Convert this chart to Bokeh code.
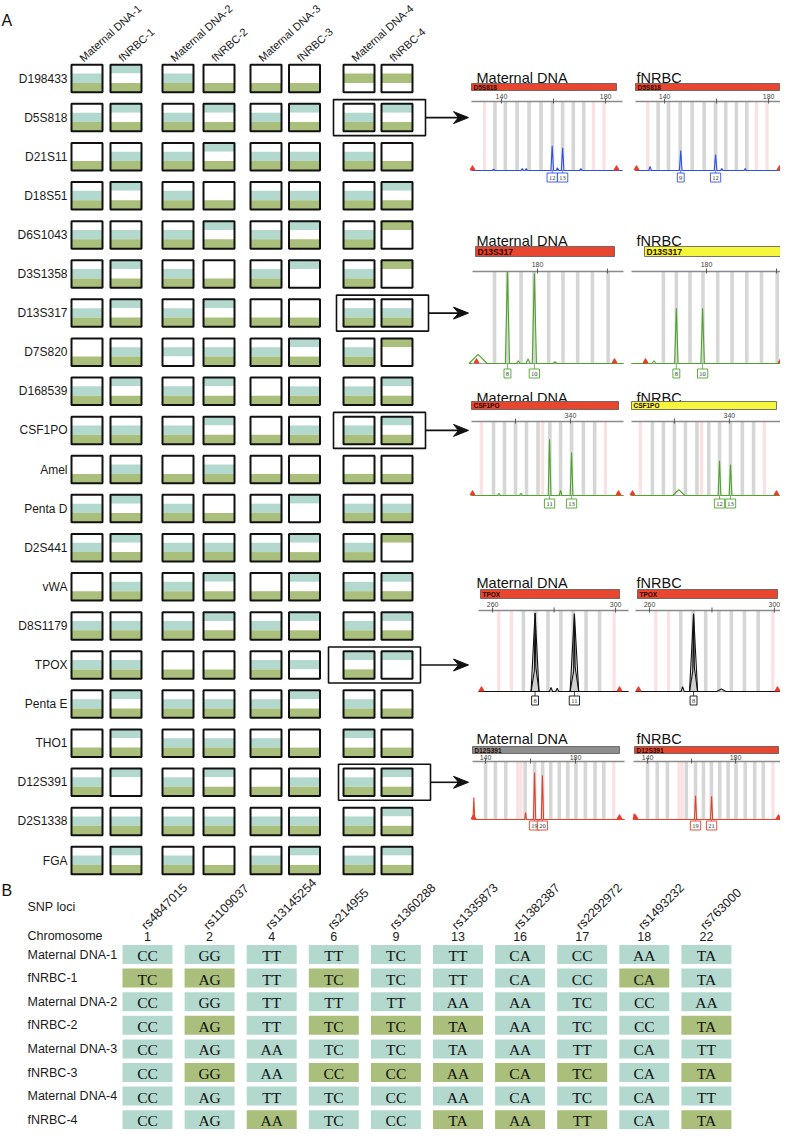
import numpy as np
from bokeh.plotting import figure
from bokeh.models import Range1d
from bokeh.core.properties import value
from bokeh.embed import file_html
from bokeh.resources import INLINE

SANS = value("Liberation Sans")
SERIF = value("Liberation Serif")
TEAL = "#b3d9cf"
GREEN = "#a9bf7b"
BAND_COLOR = {"T": TEAL, "G": GREEN, "W": "#ffffff"}

# ---------------- Panel A data ----------------
loci = ["D198433", "D5S818", "D21S11", "D18S51", "D6S1043", "D3S1358", "D13S317",
        "D7S820", "D168539", "CSF1PO", "Amel", "Penta D", "D2S441", "vWA", "D8S1179",
        "TPOX", "Penta E", "THO1", "D12S391", "D2S1338", "FGA"]
samples = ["Maternal DNA-1", "fNRBC-1", "Maternal DNA-2", "fNRBC-2",
           "Maternal DNA-3", "fNRBC-3", "Maternal DNA-4", "fNRBC-4"]
# band colours of each cell, top / middle / bottom (T teal, G green, W white)
cell_patterns = [
    ["WTG", "TWG", "WTG", "WWG", "WWG", "WWG", "WGW", "WGW"],  # D198433
    ["WTG", "TWG", "WTG", "TWG", "WTG", "TWG", "WTG", "TWG"],  # D5S818
    ["WWG", "WTG", "WTG", "TWG", "WTG", "WTG", "WTG", "WWG"],  # D21S11
    ["WTG", "TWG", "WTG", "WWG", "WTG", "WTG", "WTG", "TWG"],  # D18S51
    ["WTG", "WTG", "WTG", "TWG", "WTG", "TWG", "WTG", "GWW"],  # D6S1043
    ["WTG", "TWG", "WTG", "WWG", "WTG", "TWW", "WTG", "GWW"],  # D3S1358
    ["WTG", "TWG", "WTG", "TWG", "WWG", "WWG", "WTG", "WTG"],  # D13S317
    ["WWG", "WTG", "WTW", "WTG", "WTG", "TWG", "WTG", "GWW"],  # D7S820
    ["WTG", "TWG", "WTG", "TWG", "WWG", "WTG", "WTG", "TWG"],  # D168539
    ["WTG", "WTG", "WTG", "TWG", "WWG", "WTG", "WTG", "TWG"],  # CSF1PO
    ["WWG", "WTG", "WWG", "WTG", "WWG", "WWG", "WWG", "WWG"],  # Amel
    ["WTG", "TWG", "WTG", "WWG", "WTG", "TWW", "WTG", "WTG"],  # Penta D
    ["WTG", "TWG", "WTG", "WTG", "WTG", "TWG", "WTG", "GWW"],  # D2S441
    ["WWG", "WTG", "WTG", "TWG", "WWG", "TWG", "WTG", "TWG"],  # vWA
    ["WTG", "WTG", "WTG", "TWG", "WTG", "TWG", "WTG", "TWG"],  # D8S1179
    ["WTG", "WTG", "WWG", "WWG", "WTG", "WTW", "TWG", "TWW"],  # TPOX
    ["WTG", "TWG", "WTG", "WTG", "WTG", "TWG", "WTG", "WWG"],  # Penta E
    ["WWG", "TWG", "WTG", "WTG", "WTG", "WWG", "TWG", "WWG"],  # THO1
    ["WTG", "TWW", "WTG", "TWG", "WWG", "WTG", "WTG", "TWG"],  # D12S391
    ["WTG", "WTG", "WTG", "WTG", "WTG", "WTG", "WTG", "TWG"],  # D2S1338
    ["WTG", "TWG", "WTG", "WWG", "WTG", "TWG", "WTG", "TWG"],  # FGA
]
ep_loci = ["D5S818", "D13S317", "CSF1PO", "TPOX", "D12S391"]

# ---------------- Panel B data ----------------
snp_ids = ["rs4847015", "rs1109037", "rs13145254", "rs214955", "rs1360288",
           "rs1335873", "rs1382387", "rs2292972", "rs1493232", "rs763000"]
chromosomes = ["1", "2", "4", "6", "9", "13", "16", "17", "18", "22"]
genotypes = [
    ["CC", "GG", "TT", "TT", "TC", "TT", "CA", "CC", "AA", "TA"],
    ["TC", "AG", "TT", "TC", "TC", "TT", "CA", "CC", "CA", "TA"],
    ["CC", "GG", "TT", "TT", "TT", "AA", "AA", "TC", "CC", "AA"],
    ["CC", "AG", "TT", "TC", "TC", "TA", "AA", "TC", "CC", "TA"],
    ["CC", "AG", "AA", "TC", "TC", "TA", "AA", "TT", "CA", "TT"],
    ["CC", "GG", "AA", "CC", "CC", "AA", "CA", "TC", "CA", "TA"],
    ["CC", "AG", "TT", "TC", "CC", "AA", "CA", "TC", "CA", "TT"],
    ["CC", "AG", "AA", "TC", "CC", "TA", "AA", "TT", "CA", "TA"],
]
differs = [
    [0, 0, 0, 0, 0, 0, 0, 0, 0, 0],
    [1, 1, 0, 1, 0, 0, 0, 0, 1, 0],
    [0, 0, 0, 0, 0, 0, 0, 0, 0, 0],
    [0, 1, 0, 1, 1, 1, 0, 0, 0, 1],
    [0, 0, 0, 0, 0, 0, 0, 0, 0, 0],
    [0, 1, 0, 1, 1, 1, 1, 1, 0, 1],
    [0, 0, 0, 0, 0, 0, 0, 0, 0, 0],
    [0, 0, 1, 0, 0, 1, 1, 1, 0, 1],
]

# ---------------- electropherogram data (bp; heights = fraction of panel) ----------------
ep_bar_mat = ["#e8462f", "#e8462f", "#e8462f", "#e8462f", "#8e8e8e"]
ep_bar_fn = ["#e8462f", "#f6f63c", "#f6f63c", "#e8462f", "#e8462f"]
ep_trace = ["#2f4fe6", "#4ca52a", "#4ca52a", "#111111", "#e2402a"]
ep_ticks = [[140, 160, 180], [180, 200], [320, 340], [260, 280, 300], [140, 160, 180]]
ep_tick_labels = [[140, 180], [180], [340], [260, 300], [140, 180]]
ep_bins = [
    [137.5, 141.5, 146.0, 150.6, 155.2, 159.6, 163.5, 167.6, 171.6],
    [167.7, 171.4, 175.3, 179.0, 183.2, 187.3, 191.5, 195.7, 200.2],
    [312.0, 316.0, 320.0, 324.0, 328.2, 332.5, 336.4, 340.4, 344.7, 348.8],
    [270.0, 274.0, 278.0, 282.2, 286.2, 290.4, 294.8],
    [140.0, 144.4, 149.0, 157.6, 161.8, 165.4, 169.0, 172.8, 176.6, 180.2, 184.4, 188.7, 192.6],
]
ep_pink = [
    [133.5, 175.3, 179.4],
    [],
    [307.6, 329.9, 352.7],
    [262.0, 266.1, 299.5],
    [154.3, 155.7, 197.0],
]
ep_range_mat = [[128.5, 186.5], [161.4, 204.6], [304.0, 359.3], [255.4, 304.2], [134.2, 201.8]]
ep_range_fn = [[128.8, 186.5], [158.6, 201.7], [304.4, 360.4], [255.5, 304.2], [133.6, 202.7]]
# peaks: (bp, height, allele label, half width in bp)
ep_peaks_mat = [
    [(137.0, 0.02, "", 0.5), (148.0, 0.03, "", 0.5), (149.5, 0.03, "", 0.5),
     (159.5, 0.36, "12", 0.5), (161.5, 0.04, "", 0.5), (163.5, 0.33, "13", 0.5), (170.5, 0.03, "", 0.5)],
    [(163.0, 0.10, "", 2.6), (171.4, 1.00, "8", 0.6), (174.5, 0.03, "", 0.5),
     (177.3, 0.05, "", 0.6), (179.1, 0.98, "10", 0.6), (185.0, 0.02, "", 0.5)],
    [(314.0, 0.03, "", 0.6), (322.0, 0.03, "", 0.6), (332.4, 0.76, "11", 0.5),
     (336.4, 0.07, "", 0.5), (340.4, 0.58, "13", 0.5)],
    [(273.8, 0.97, "8", 1.3), (279.0, 0.05, "", 0.5), (281.0, 0.04, "", 0.5), (286.6, 0.96, "11", 1.4)],
    [(134.8, 0.38, "", 0.4), (157.8, 0.12, "", 0.4), (161.8, 0.81, "19", 0.5), (165.3, 0.76, "20", 0.5)],
]
ep_peaks_fn = [
    [(134.4, 0.06, "", 0.5), (146.2, 0.29, "9", 0.5), (159.6, 0.23, "12", 0.5),
     (162.0, 0.03, "", 0.5), (171.0, 0.03, "", 0.5)],
    [(165.0, 0.03, "", 0.6), (171.4, 0.60, "8", 0.5), (178.9, 0.60, "10", 0.5)],
    [(321.6, 0.08, "", 2.2), (336.4, 0.47, "12", 0.5), (340.4, 0.42, "13", 0.5)],
    [(270.6, 0.06, "", 0.5), (274.1, 0.96, "8", 1.3), (283.0, 0.03, "", 1.5)],
    [(133.9, 0.10, "", 0.4), (161.8, 0.41, "19", 0.5), (169.1, 0.40, "21", 0.5)],
]

# ---------------- layout ----------------
W, H = 780, 1129
ROW0, ROW_STEP = 86.0, 39.1
CELL_W, CELL_H = 31.0, 27.5
COL_X = [94.5, 133.5, 185.5, 226.5, 273.5, 312.0, 366.5, 404.5]
BANDS = [0.0, 0.32, 0.66, 1.0]
BOX_SHIFT = {"D13S317": 3, "TPOX": -5, "D12S391": 5}

B_COL0, B_COL_STEP, B_CELL_W = 130.0, 62.1, 50.0
B_ROW0, B_ROW_STEP, B_CELL_H = 952.5, 23.6, 19.0

EP_TITLE_Y = [85, 248, 405, 590, 746]
EP_BAR_Y = [(91, 98), (254, 264), (409, 417), (597, 606), (754, 761)]
EP_TICK_Y = [104, 272, 423, 612, 765]
EP_AXIS_Y = [109, 279, 429, 618, 769]
EP_BASE_Y = [178, 371, 503, 699, 827]
EP_LAB_Y = [185, 381, 511, 708, 833]
EP_MAT_PX = [(479, 630), (480, 631), (479, 631), (486, 636), (480, 632)]
EP_FN_PX = [(643, 793), (639, 790), (639, 793), (643, 795), (641, 793)]
EP_MAT_BAR = [(479, 624), (483, 622), (479, 626), (488, 627), (480, 627)]
EP_FN_BAR = [(643, 787), (652, 788), (639, 784), (645, 785), (642, 786)]
EP_TITLE_X = (484, 644)

p = figure(width=W, height=H, x_range=Range1d(8, 8 + W), y_range=Range1d(8 + H, 8),
           output_backend="svg", toolbar_location=None, min_border=0,
           x_axis_location=None, y_axis_location=None)
p.grid.visible = False
p.outline_line_color = None
p.background_fill_color = "white"

# ---------- panel A ----------
p.text(x=[9], y=[28], text=["A"], text_font=SANS, text_font_size="16px",
       text_baseline="middle", text_color="#111")
row_y = [ROW0 + ROW_STEP * r for r in range(len(loci))]
p.text(x=[75] * len(loci), y=row_y, text=loci, text_font=SANS, text_font_size="12px",
       text_align="right", text_baseline="middle", text_color="#1a1a1a")
p.text(x=[c - 6 for c in COL_X], y=[67] * len(samples), text=samples, angle=np.radians(42),
       text_font=SANS, text_font_size="11px", text_align="left",
       text_baseline="alphabetic", text_color="#1a1a1a")

L, R, T, Bt, C = [], [], [], [], []
for r, row in enumerate(cell_patterns):
    top = row_y[r] - CELL_H / 2
    for c, pat in enumerate(row):
        for k, ch in enumerate(pat):
            L.append(COL_X[c] - CELL_W / 2)
            R.append(COL_X[c] + CELL_W / 2)
            T.append(top + BANDS[k] * CELL_H)
            Bt.append(top + BANDS[k + 1] * CELL_H)
            C.append(BAND_COLOR[ch])
p.quad(left=L, right=R, top=T, bottom=Bt, fill_color=C, line_color=None)
bl = [COL_X[c] - CELL_W / 2 for r in range(len(loci)) for c in range(len(samples))]
br = [COL_X[c] + CELL_W / 2 for r in range(len(loci)) for c in range(len(samples))]
bt = [row_y[r] - CELL_H / 2 for r in range(len(loci)) for c in range(len(samples))]
bb = [row_y[r] + CELL_H / 2 for r in range(len(loci)) for c in range(len(samples))]
p.quad(left=bl, right=br, top=bt, bottom=bb, fill_color=None, line_color="#111111", line_width=2)

# highlight boxes and arrows
hx0, hx1, hy0, hy1, ax0, ay, ax1 = [], [], [], [], [], [], []
heads_x, heads_y = [], []
for name in ep_loci:
    r = loci.index(name)
    s = BOX_SHIFT.get(name, 0)
    left = COL_X[6] - CELL_W / 2 - 10 + s
    right = COL_X[7] + CELL_W / 2 + 13 + s
    hx0.append(left); hx1.append(right)
    hy0.append(row_y[r] - 18); hy1.append(row_y[r] + 18)
    tip = 476
    ax0.append(right); ay.append(row_y[r]); ax1.append(tip - 8)
    heads_x.append([tip, tip - 15, tip - 10, tip - 15])
    heads_y.append([row_y[r], row_y[r] - 6, row_y[r], row_y[r] + 6])
p.quad(left=hx0, right=hx1, top=hy0, bottom=hy1, fill_color=None, line_color="#111111", line_width=1.6)
p.segment(x0=ax0, y0=ay, x1=ax1, y1=ay, line_color="#111111", line_width=1.6)
p.patches(xs=heads_x, ys=heads_y, fill_color="#111111", line_color="#111111")

# ---------- electropherograms ----------
def draw_panel(i, bp_range, px, bar_px, bar_color, peaks, title, title_x):
    lo, hi = bp_range
    x0, x1 = px
    sc = (x1 - x0) / (hi - lo)
    tox = lambda b: x0 + (b - lo) * sc
    ya, yb = EP_AXIS_Y[i], EP_BASE_Y[i]
    hgt = yb - ya
    col = ep_trace[i]
    p.text(x=[title_x], y=[EP_TITLE_Y[i]], text=[title], text_font=SANS, text_font_size="14.5px",
           text_baseline="alphabetic", text_color="#111")
    p.quad(left=[bar_px[0]], right=[bar_px[1]], top=[EP_BAR_Y[i][0]], bottom=[EP_BAR_Y[i][1]],
           fill_color=bar_color, line_color="#555", line_width=0.8)
    fs = "8.5px" if i == 1 else "6.5px"
    p.text(x=[bar_px[0] + 2], y=[(EP_BAR_Y[i][0] + EP_BAR_Y[i][1]) / 2], text=[ep_loci[i]],
           text_font=SANS, text_font_size=fs, text_font_style="bold", text_baseline="middle",
           text_color="#2a0a00")
    bx = [tox(b) for b in ep_bins[i]]
    p.quad(left=[v - 1.8 for v in bx], right=[v + 1.8 for v in bx], top=[ya] * len(bx),
           bottom=[yb] * len(bx), fill_color="#d6d6d6", line_color=None)
    pxs = [tox(b) for b in ep_pink[i]]
    if pxs:
        p.quad(left=[v - 1.6 for v in pxs], right=[v + 1.6 for v in pxs], top=[ya] * len(pxs),
               bottom=[yb] * len(pxs), fill_color="#fbe1e1", line_color=None)
    p.segment(x0=[x0], y0=[ya], x1=[x1], y1=[ya], line_color="#8a8a8a", line_width=1.6)
    tx = [tox(t) for t in ep_ticks[i]]
    p.segment(x0=tx, y0=[ya - 3] * len(tx), x1=tx, y1=[ya + 2] * len(tx), line_color="#555", line_width=1)
    p.text(x=[tox(t) for t in ep_tick_labels[i]], y=[EP_TICK_Y[i]] * len(ep_tick_labels[i]),
           text=[str(t) for t in ep_tick_labels[i]], text_font=SANS, text_font_size="7px",
           text_align="center", text_baseline="middle", text_color="#444")
    p.segment(x0=[x0], y0=[yb], x1=[x1], y1=[yb], line_color="#9a9a9a", line_width=1.2)
    xs, ys = [x0], [yb]
    fills_x, fills_y = [], []
    for b, h, lab, w in sorted(peaks):
        xs += [tox(b - w), tox(b), tox(b + w)]
        ys += [yb, yb - h * hgt, yb]
        if i == 3 and h > 0.5:
            fills_x.append([tox(b - w), tox(b - 0.25), tox(b), tox(b + 0.25), tox(b + w)])
            fills_y.append([yb, yb - 0.25 * hgt, yb - h * hgt, yb - 0.3 * hgt, yb])
    xs.append(x1); ys.append(yb)
    if fills_x:
        p.patches(xs=fills_x, ys=fills_y, fill_color="#d0d0d0", line_color=col, line_width=1.1)
    p.line(xs, ys, line_color=col, line_width=1.1)
    p.scatter(x=[bar_px[0] + 1, bar_px[1]], y=[yb - 2, yb - 2], marker="triangle", size=5,
              fill_color="#f03a2a", line_color="#f03a2a")
    labs = [(tox(b), lab) for b, h, lab, w in peaks if lab]
    lw = [3.5 + 3.4 * len(l) for _, l in labs]
    p.quad(left=[x - w / 2 for (x, _), w in zip(labs, lw)], right=[x + w / 2 for (x, _), w in zip(labs, lw)],
           top=[EP_LAB_Y[i] - 4.5] * len(labs), bottom=[EP_LAB_Y[i] + 4.5] * len(labs),
           fill_color="white", line_color=col, line_width=0.9)
    p.segment(x0=[x for x, _ in labs], y0=[yb] * len(labs), x1=[x for x, _ in labs],
              y1=[EP_LAB_Y[i] - 4.5] * len(labs), line_color=col, line_width=0.8)
    p.text(x=[x for x, _ in labs], y=[EP_LAB_Y[i]] * len(labs), text=[l for _, l in labs],
           text_font=SERIF, text_font_size="6.5px", text_align="center", text_baseline="middle",
           text_color="#333")

for i in range(len(ep_loci)):
    draw_panel(i, ep_range_mat[i], EP_MAT_PX[i], EP_MAT_BAR[i], ep_bar_mat[i], ep_peaks_mat[i],
               "Maternal DNA", EP_TITLE_X[0])
    draw_panel(i, ep_range_fn[i], EP_FN_PX[i], EP_FN_BAR[i], ep_bar_fn[i], ep_peaks_fn[i],
               "fNRBC", EP_TITLE_X[1])

# ---------- panel B ----------
p.text(x=[9], y=[898], text=["B"], text_font=SANS, text_font_size="16px",
       text_baseline="middle", text_color="#111")
p.text(x=[35, 35], y=[914, 943], text=["SNP loci", "Chromosome"], text_font=SANS,
       text_font_size="12.5px", text_baseline="middle", text_color="#1a1a1a")
bcx = [B_COL0 + B_COL_STEP * j + B_CELL_W / 2 for j in range(len(snp_ids))]
p.text(x=bcx, y=[944] * len(chromosomes), text=chromosomes, text_font=SANS, text_font_size="12.5px",
       text_align="center", text_baseline="middle", text_color="#1a1a1a")
p.text(x=[x - 4 for x in bcx], y=[935] * len(snp_ids), text=snp_ids, angle=np.pi / 4,
       text_font=SANS, text_font_size="12.5px", text_align="left", text_baseline="alphabetic",
       text_color="#1a1a1a")
brow_y = [B_ROW0 + B_ROW_STEP * r + B_CELL_H / 2 for r in range(len(samples))]
p.text(x=[35] * len(samples), y=brow_y, text=samples, text_font=SANS, text_font_size="12.5px",
       text_baseline="middle", text_color="#1a1a1a")
gl, gr, gt, gb, gc, gx, gy, gtxt = [], [], [], [], [], [], [], []
for r in range(len(samples)):
    for j in range(len(snp_ids)):
        gl.append(B_COL0 + B_COL_STEP * j)
        gr.append(B_COL0 + B_COL_STEP * j + B_CELL_W)
        gt.append(brow_y[r] - B_CELL_H / 2)
        gb.append(brow_y[r] + B_CELL_H / 2)
        gc.append(GREEN if differs[r][j] else TEAL)
        gx.append(bcx[j]); gy.append(brow_y[r] + 1); gtxt.append(genotypes[r][j])
p.quad(left=gl, right=gr, top=gt, bottom=gb, fill_color=gc, line_color=None)
p.text(x=gx, y=gy, text=gtxt, text_font=SERIF, text_font_size="15.5px", text_align="center",
       text_baseline="middle", text_color="#111")

open("out.html", "w").write(file_html(p, INLINE))
